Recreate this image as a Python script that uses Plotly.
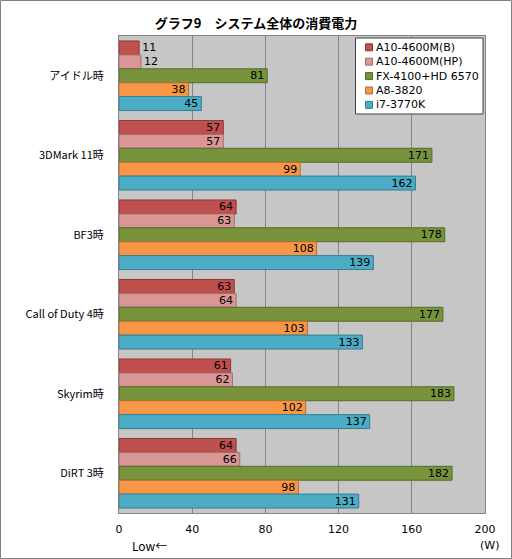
import plotly.graph_objects as go

# データ
categories = ["アイドル時", "3DMark 11時", "BF3時", "Call of Duty 4時", "Skyrim時", "DiRT 3時"]
series_names = ["A10-4600M(B)", "A10-4600M(HP)", "FX-4100+HD 6570", "A8-3820", "i7-3770K"]
a10_b = [11, 57, 64, 63, 61, 64]
a10_hp = [12, 57, 63, 64, 62, 66]
fx4100 = [81, 171, 178, 177, 183, 182]
a8_3820 = [38, 99, 108, 103, 102, 98]
i7_3770k = [45, 162, 139, 133, 137, 131]
x_ticks = [0, 40, 80, 120, 160, 200]

values = [a10_b, a10_hp, fx4100, a8_3820, i7_3770k]
fills = ["#c0504d", "#d99694", "#77933c", "#f79646", "#4bacc6"]
edges = ["#8c3836", "#a26f6e", "#566b2b", "#b56d33", "#357d91"]

W, H = 512, 559
L, R, T, B = 119, 27, 36, 46
pw, ph = W - L - R, H - T - B

def px(x):  # ピクセル -> paper座標
    return (x - L) / pw

def py(y):
    return 1 - (y - T) / ph

font_jp = "Noto Sans CJK JP, DejaVu Sans, sans-serif"
font_lat = "DejaVu Sans, Noto Sans CJK JP, sans-serif"

fig = go.Figure()
for name, vals, c, e in zip(series_names, values, fills, edges):
    pos = ["outside" if v < 20 else "inside" for v in vals]
    fig.add_trace(go.Bar(
        y=categories, x=vals, name=name, orientation="h",
        marker=dict(color=c, line=dict(color=e, width=1)),
        text=[str(v) for v in vals], textposition=pos,
        insidetextanchor="end", textangle=0,
        textfont=dict(family=font_lat, size=11, color="black"),
        cliponaxis=False, showlegend=False,
    ))

fig.update_layout(
    width=W, height=H,
    margin=dict(l=L, r=R, t=T, b=B),
    paper_bgcolor="white", plot_bgcolor="#c6c6c6",
    barmode="group", bargap=0.125, bargroupgap=0,
    uniformtext=dict(minsize=11, mode="show"),
    title=dict(text="<b>グラフ9　システム全体の消費電力</b>", x=0.5, xanchor="center",
               y=1 - 23 / H, yanchor="middle",
               font=dict(family=font_jp, size=13, color="black")),
)
fig.update_xaxes(range=[0, 200], tickvals=x_ticks, showgrid=True, gridcolor="#858585",
                 gridwidth=1, zeroline=False, showline=True, linecolor="#858585",
                 mirror=True, ticks="", ticklabelstandoff=6,
                 tickfont=dict(family=font_lat, size=11, color="black"))
fig.update_yaxes(autorange="reversed", showgrid=False, showline=True, linecolor="#858585",
                 mirror=True, ticks="", ticklabelstandoff=12,
                 tickfont=dict(family=font_jp, size=11, color="black"))

# 凡例（手描き）
fig.add_shape(type="rect", xref="paper", yref="paper",
              x0=px(355.5), x1=px(483), y0=py(38), y1=py(114),
              fillcolor="white", line=dict(color="#404040", width=1), layer="above")
for i, (name, c, e) in enumerate(zip(series_names, fills, edges)):
    cy = 47.3 + i * 14.4
    fig.add_shape(type="rect", xref="paper", yref="paper",
                  x0=px(365.5), x1=px(372.5), y0=py(cy - 3.5), y1=py(cy + 3.5),
                  fillcolor=c, line=dict(color=e, width=1), layer="above")
    fig.add_annotation(text=name, xref="paper", yref="paper", x=px(374), y=py(cy),
                       xanchor="left", yanchor="middle", showarrow=False,
                       font=dict(family=font_lat, size=11, color="black"))

fig.add_annotation(text="Low←", xref="paper", yref="paper",
                   x=px(130), y=py(545), xanchor="left", yanchor="middle",
                   showarrow=False, font=dict(family=font_jp, size=12, color="black"))
fig.add_annotation(text="(W)", xref="paper", yref="paper",
                   x=px(501), y=py(545), xanchor="right", yanchor="middle",
                   showarrow=False, font=dict(family=font_lat, size=11, color="black"))

# 外枠
fig.add_shape(type="rect", xref="paper", yref="paper",
              x0=px(0.5), x1=px(W - 0.5), y0=py(0.5), y1=py(H - 0.5),
              line=dict(color="#808080", width=1))

fig.write_html("out.html", config={"displayModeBar": False},
               post_script="document.body.style.margin='0';")
